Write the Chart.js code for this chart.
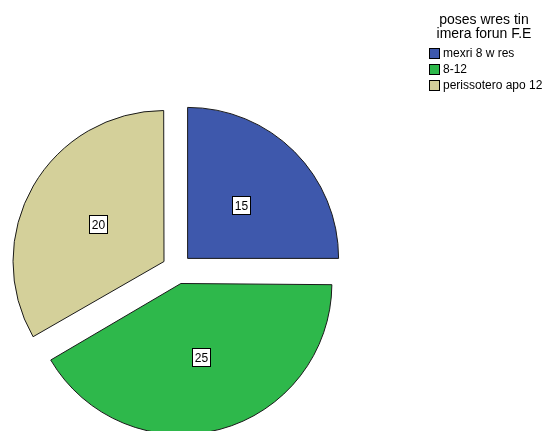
<!DOCTYPE html>
<html>
<head>
<meta charset="utf-8">
<script src="https://cdn.jsdelivr.net/npm/chart.js@4"></script>
<style>
  html, body { margin: 0; padding: 0; background: #fff; }
  #wrap { width: 544px; height: 431px; position: relative; }
</style>
</head>
<body>
<div id="wrap"><canvas id="pie" width="544" height="431"></canvas></div>
<script>
  const legendTitle = ['poses wres tin', 'imera forun F.E'];
  const categories = ['mexri 8 w res', '8-12', 'perissotero apo 12'];
  const counts = [15, 25, 20];
  const sliceColors = ['#3e58ac', '#2eb84b', '#d4d09a'];

  const FONT = '"Liberation Sans", Arial, sans-serif';
  const EXPLODE = 60; // Chart.js divides arc offset by 4 -> 15px

  // Chart.js grows the radius of exploded arcs a bit; undo that so all slices share one radius
  const evenRadius = {
    id: 'evenRadius',
    afterDatasetUpdate(chart, args) {
      args.meta.data.forEach(arc => {
        const fix = 1 - Math.sin(Math.min(Math.PI, arc.circumference));
        arc.outerRadius -= (EXPLODE / 4) * fix;
      });
    }
  };

  // boxed value labels inside each slice
  const valueBoxes = {
    id: 'valueBoxes',
    afterDatasetsDraw(chart) {
      const ctx = chart.ctx;
      const meta = chart.getDatasetMeta(0);
      ctx.save();
      ctx.font = '12px ' + FONT;
      ctx.textAlign = 'center';
      ctx.textBaseline = 'middle';
      meta.data.forEach((arc, i) => {
        const mid = (arc.startAngle + arc.endAngle) / 2;
        const r = 76 + EXPLODE / 4;
        const x = Math.round(arc.x + Math.cos(mid) * r);
        const y = Math.round(arc.y + Math.sin(mid) * r);
        const txt = String(chart.data.datasets[0].data[i]);
        const w = Math.round(ctx.measureText(txt).width + 5);
        const h = 18;
        const bx = Math.round(x - w / 2), by = Math.round(y - h / 2);
        ctx.fillStyle = '#fff';
        ctx.fillRect(bx, by, w, h);
        ctx.strokeStyle = '#000';
        ctx.lineWidth = 1;
        ctx.strokeRect(bx + 0.5, by + 0.5, w, h);
        ctx.fillStyle = '#000';
        ctx.fillText(txt, bx + w / 2 + 0.5, by + h / 2 + 1.5);
      });
      ctx.restore();
    }
  };

  // SPSS style legend, top right
  const sideLegend = {
    id: 'sideLegend',
    afterDraw(chart) {
      const ctx = chart.ctx;
      ctx.save();
      ctx.fillStyle = '#000';
      ctx.font = '14px ' + FONT;
      ctx.textAlign = 'center';
      ctx.textBaseline = 'alphabetic';
      legendTitle.forEach((line, i) => ctx.fillText(line, 484, 24 + i * 14));

      ctx.font = '12px ' + FONT;
      ctx.textAlign = 'left';
      ctx.textBaseline = 'middle';
      chart.data.labels.forEach((lab, i) => {
        const cy = 53 + i * 16;
        ctx.fillStyle = sliceColors[i];
        ctx.fillRect(429, cy - 5, 11, 11);
        ctx.strokeStyle = '#000';
        ctx.lineWidth = 1;
        ctx.strokeRect(429.5, cy - 4.5, 10, 10);
        ctx.fillStyle = '#000';
        ctx.fillText(lab, 443, cy + 1);
      });
      ctx.restore();
    }
  };

  const chart = new Chart(document.getElementById('pie'), {
    type: 'pie',
    data: {
      labels: categories,
      datasets: [{
        data: counts,
        backgroundColor: sliceColors,
        borderColor: '#1a1a1a',
        borderWidth: 1,
        offset: EXPLODE
      }]
    },
    options: {
      responsive: false,
      animation: false,
      radius: 151,
      layout: { padding: { left: 2, right: 192, top: 107, bottom: 0 } },
      plugins: {
        legend: { display: false },
        tooltip: { enabled: false }
      }
    },
    plugins: [evenRadius, valueBoxes, sideLegend]
  });
</script>
</body>
</html>
